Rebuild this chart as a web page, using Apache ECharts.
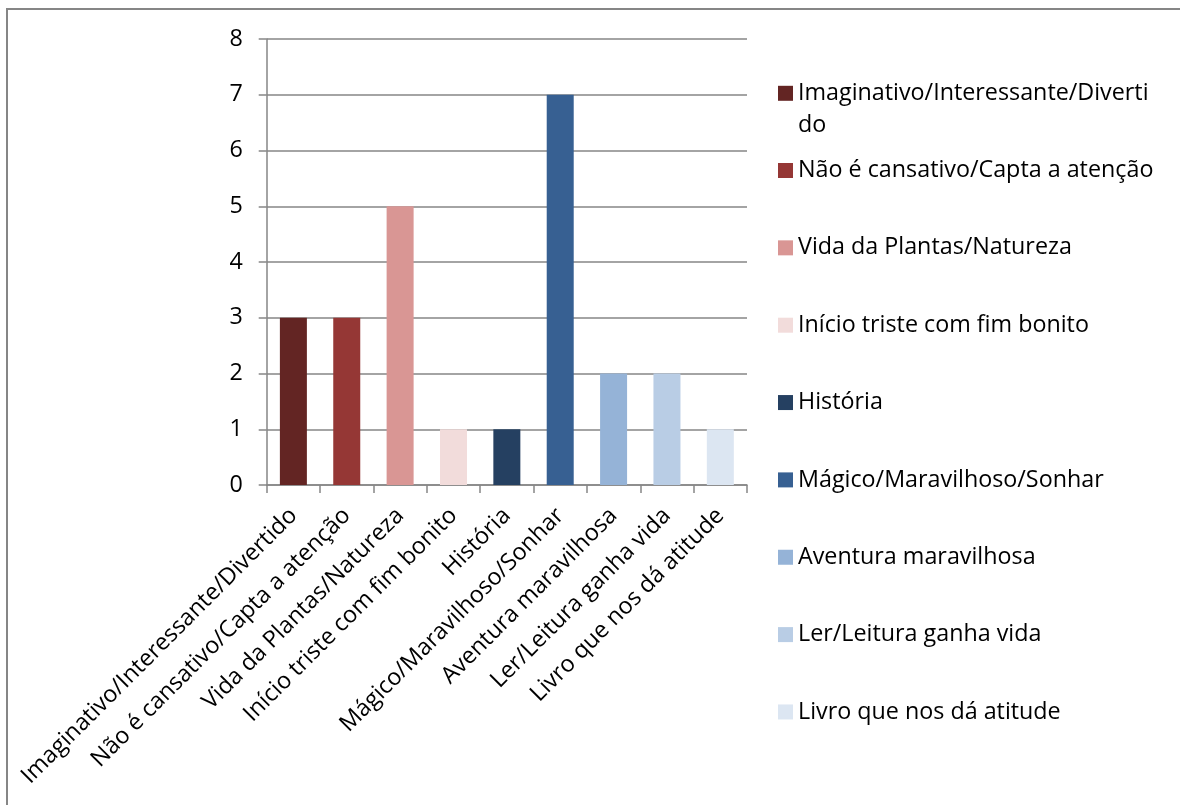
<!DOCTYPE html>
<html>
<head>
<meta charset="utf-8">
<script src="https://cdn.jsdelivr.net/npm/echarts@6/dist/echarts.min.js"></script>
<style>
html,body{margin:0;padding:0;background:#fff;}
#chart{width:1180px;height:805px;}
</style>
</head>
<body>
<div id="chart"></div>
<script>
const categories = [
  'Imaginativo/Interessante/Divertido',
  'Não é cansativo/Capta a atenção',
  'Vida da Plantas/Natureza',
  'Início triste com fim bonito',
  'História',
  'Mágico/Maravilhoso/Sonhar',
  'Aventura maravilhosa',
  'Ler/Leitura ganha vida',
  'Livro que nos dá atitude'
];
const values = [3, 3, 5, 1, 1, 7, 2, 2, 1];
const colors = ['#632523', '#953735', '#D99694', '#F2DCDB', '#254061', '#376092', '#95B3D7', '#B9CDE5', '#DCE6F2'];
const yTicks = [0, 1, 2, 3, 4, 5, 6, 7, 8];

const FONT = 'Open Sans';
const FS = 23.3;

const series = categories.map((name, i) => ({
  name: name,
  type: 'bar',
  stack: 'all',
  barWidth: 27,
  itemStyle: { color: colors[i] },
  data: categories.map((c, j) => (j === i ? values[i] : '-'))
}));

const chart = echarts.init(document.getElementById('chart'), null, { renderer: 'canvas' });
chart.setOption({
  animation: false,
  textStyle: { fontFamily: FONT },
  graphic: [{
    type: 'rect',
    shape: { x: 7, y: 9, width: 1200, height: 900 },
    style: { fill: 'none', stroke: '#868686', lineWidth: 2 },
    silent: true
  }],
  grid: { left: 266.7, right: 433, top: 39, bottom: 320, containLabel: false },
  legend: [{
    data: [categories[0]],
    left: 778, top: 45.3, padding: 0,
    orient: 'vertical',
    itemWidth: 15, itemHeight: 15,
    icon: 'rect',
    selectedMode: false,
    formatter: function (n) { return ' \nImaginativo/Interessante/Diverti\ndo'; },
    textStyle: { fontFamily: FONT, fontSize: FS, color: '#000', lineHeight: 32 }
  }, {
    data: categories.slice(1),
    left: 778, top: 156.5, padding: 0,
    orient: 'vertical',
    itemWidth: 15, itemHeight: 15,
    itemGap: 49.35,
    icon: 'rect',
    selectedMode: false,
    textStyle: { fontFamily: FONT, fontSize: FS, color: '#000', lineHeight: 28 }
  }],
  xAxis: {
    type: 'category',
    data: categories,
    axisLine: { lineStyle: { color: '#868686', width: 1.5 } },
    axisTick: { show: true, length: 8, interval: 0, lineStyle: { color: '#868686', width: 1.5 } },
    axisLabel: { interval: 0, rotate: 45, margin: 27, fontFamily: FONT, fontSize: FS, color: '#000' },
    splitLine: { show: false }
  },
  yAxis: {
    type: 'value',
    min: yTicks[0], max: yTicks[yTicks.length - 1], interval: 1,
    axisLine: { show: true, lineStyle: { color: '#868686', width: 1.5 } },
    axisTick: { show: true, length: 8, lineStyle: { color: '#868686', width: 1.5 } },
    axisLabel: { margin: 24, fontFamily: FONT, fontSize: FS, color: '#000' },
    splitLine: { show: true, lineStyle: { color: '#868686', width: 1.5 } }
  },
  series: series
});
</script>
</body>
</html>
